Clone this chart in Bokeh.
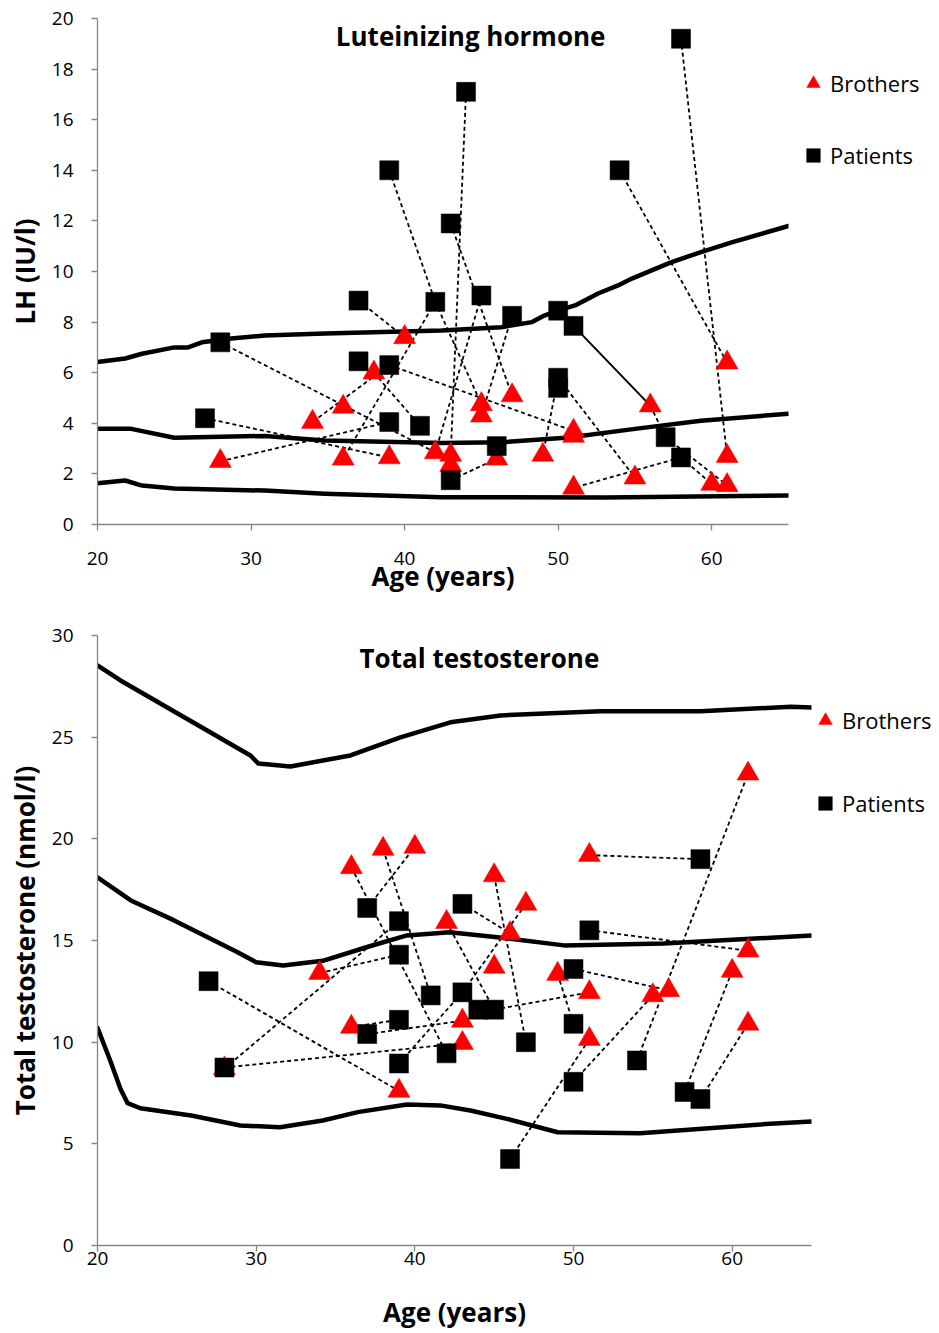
from bokeh.plotting import figure
from bokeh.layouts import column
from bokeh.models import Range1d, FixedTicker, Label, Legend, LegendItem
from bokeh.embed import file_html
from bokeh.resources import INLINE

FONT = "Open Sans"

# ---------------- LH panel data ----------------
lh_hi_age = [20, 21.8, 22.9, 25.0, 25.9, 26.8, 28.7, 30.9, 34.8, 42.4, 46.3, 48.3, 49.1, 50.0, 51.1, 52.6, 53.9, 54.8, 57.3, 59.2, 61.3, 65]
lh_hi = [6.42, 6.56, 6.75, 7.0, 7.0, 7.2, 7.35, 7.47, 7.55, 7.67, 7.8, 8.0, 8.26, 8.46, 8.66, 9.13, 9.45, 9.72, 10.35, 10.75, 11.15, 11.8]
lh_mid_age = [20, 22.2, 25.0, 30.9, 34.8, 42.4, 46.3, 50.7, 55.0, 59.3, 65]
lh_mid = [3.78, 3.78, 3.43, 3.5, 3.32, 3.22, 3.25, 3.44, 3.78, 4.1, 4.38]
lh_lo_age = [20, 21.8, 22.9, 25.0, 30.9, 34.8, 42.4, 53.0, 65]
lh_lo = [1.63, 1.74, 1.54, 1.42, 1.34, 1.22, 1.08, 1.07, 1.15]

lh_pat_age = [39, 44, 58, 54, 43, 37, 42, 45, 47, 50, 51, 28, 37, 39, 27, 39, 41, 50, 50, 46, 57, 58, 43]
lh_pat = [14.0, 17.1, 19.2, 14.0, 11.9, 8.85, 8.8, 9.05, 8.25, 8.45, 7.85, 7.2, 6.45, 6.3, 4.2, 4.05, 3.9, 5.8, 5.4, 3.1, 3.45, 2.65, 1.75]
lh_bro_age = [40, 38, 45, 45, 47, 39, 42, 43, 43, 46, 49, 51, 51, 61, 56, 55, 61, 60, 61, 36, 34, 28, 36, 51]
lh_bro = [7.4, 6.0, 4.75, 4.3, 5.1, 2.65, 2.85, 2.75, 2.35, 2.6, 2.75, 3.7, 1.45, 6.4, 4.7, 1.85, 2.7, 1.6, 1.55, 4.65, 4.05, 2.5, 2.6, 3.5]
lh_links = [("P1", "P7"), ("P7", "B3"), ("P7", "B23"), ("P2", "B8"), ("P5", "B5"), ("P8", "B7"),
            ("P9", "B4"), ("P6", "B1"), ("P12", "B7"), ("P15", "B6"), ("B22", "P16"), ("P14", "B21"),
            ("P14", "B12"), ("P13", "B2"), ("B2", "P17"), ("P23", "B10"), ("P18", "B11"), ("P18", "B16"),
            ("P4", "B14"), ("P3", "B17"), ("B15", "P21"), ("P21", "B19"), ("P22", "B18"), ("P22", "B13")]
lh_solid_links = [("P11", "B15")]

# ---------------- Testosterone panel data ----------------
tt_hi_age = [20, 21.45, 29.64, 30.14, 32.16, 35.94, 39.09, 42.24, 45.4, 51.7, 58.0, 63.7, 65]
tt_hi = [28.53, 27.79, 24.1, 23.7, 23.56, 24.1, 24.99, 25.73, 26.07, 26.27, 26.27, 26.5, 26.46]
tt_mid_age = [20, 22.1, 24.8, 28.8, 30.0, 31.7, 34.2, 37.0, 39.5, 42.2, 45.2, 49.4, 55.7, 65]
tt_mid = [18.1, 16.97, 16.0, 14.43, 13.93, 13.77, 14.0, 14.68, 15.25, 15.41, 15.16, 14.76, 14.85, 15.25]
tt_lo_age = [20, 20.8, 21.45, 21.9, 22.7, 25.9, 29.0, 31.5, 34.2, 36.4, 39.5, 41.6, 43.5, 45.8, 49.0, 54.2, 62.4, 65]
tt_lo = [10.7, 9.1, 7.7, 7.0, 6.75, 6.39, 5.9, 5.82, 6.15, 6.56, 6.93, 6.89, 6.64, 6.23, 5.57, 5.52, 5.99, 6.1]

tt_pat_age = [27, 28, 37, 39, 39, 41, 43, 43, 37, 39, 39, 42, 58, 51, 50, 44, 45, 50, 47, 54, 50, 57, 58, 46]
tt_pat = [13.0, 8.75, 16.6, 15.95, 14.3, 12.3, 16.8, 12.45, 10.4, 11.1, 8.95, 9.45, 19.0, 15.5, 13.6, 11.6, 11.6, 10.9, 10.0, 9.1, 8.05, 7.55, 7.2, 4.25]
tt_bro_age = [28, 36, 38, 40, 34, 42, 36, 43, 43, 39, 51, 45, 47, 46, 61, 45, 49, 60, 51, 55, 56, 51, 61, 61]
tt_bro = [8.7, 18.6, 19.5, 19.6, 13.4, 15.9, 10.75, 11.05, 9.95, 7.6, 19.2, 18.2, 16.8, 15.35, 14.5, 13.7, 13.35, 13.5, 12.45, 12.3, 12.55, 10.15, 10.9, 23.2]
tt_links = [("P1", "B10"), ("B1", "P4"), ("P2", "B9"), ("B2", "P12"), ("P3", "B4"), ("B3", "P6"),
            ("B5", "P5"), ("B7", "P10"), ("P9", "B8"), ("P11", "P8"), ("P8", "B13"), ("P7", "B14"),
            ("B12", "P19"), ("B6", "P17"), ("P17", "B19"), ("P15", "B21"), ("B17", "P18"), ("P14", "B15"),
            ("B11", "P13"), ("P24", "B22"), ("P21", "B20"), ("P20", "B24"), ("P22", "B18"), ("P23", "B23")]
tt_solid_links = []

x_ticks = [20, 30, 40, 50, 60]
lh_y_ticks = [0, 2, 4, 6, 8, 10, 12, 14, 16, 18, 20]
tt_y_ticks = [0, 5, 10, 15, 20, 25, 30]

AXIS_GREY = "#868686"


def link_coords(links, pat_age, pat, bro_age, bro):
    lookup = {}
    for i, (a, v) in enumerate(zip(pat_age, pat)):
        lookup["P%d" % (i + 1)] = (a, v)
    for i, (a, v) in enumerate(zip(bro_age, bro)):
        lookup["B%d" % (i + 1)] = (a, v)
    x0 = [lookup[s][0] for s, e in links]
    y0 = [lookup[s][1] for s, e in links]
    x1 = [lookup[e][0] for s, e in links]
    y1 = [lookup[e][1] for s, e in links]
    return x0, y0, x1, y1


def make_panel(frame_w, frame_h, y_max, y_ticks, ylabel, title, title_xy,
               curves, pat_age, pat, bro_age, bro, links, solid_links,
               borders, legend_loc, legend_spacing, x_tick_standoff, x_lab_standoff, y_lab_standoff):
    left, top, bottom, right = borders
    p = figure(frame_width=frame_w, frame_height=frame_h,
               x_range=Range1d(20, 65), y_range=Range1d(0, y_max),
               output_backend="svg", toolbar_location=None,
               min_border_left=left, min_border_top=top, min_border_bottom=bottom, min_border_right=right)
    p.outline_line_color = None
    p.xgrid.visible = False
    p.ygrid.visible = False
    p.background_fill_color = "white"
    p.border_fill_color = "white"

    for ax in (p.xaxis[0], p.yaxis[0]):
        ax.axis_line_color = AXIS_GREY
        ax.axis_line_width = 1.3
        ax.major_tick_line_color = AXIS_GREY
        ax.major_tick_line_width = 1.3
        ax.minor_tick_line_color = None
        ax.major_tick_out = 6
        ax.major_tick_in = 0
        ax.major_label_text_font = FONT
        ax.major_label_text_font_size = "19px"
        ax.major_label_text_color = "black"
        ax.axis_label_text_font = FONT
        ax.axis_label_text_font_size = "26px"
        ax.axis_label_text_font_style = "bold"
        ax.axis_label_text_color = "black"

    p.xaxis.ticker = FixedTicker(ticks=x_ticks)
    p.xaxis.axis_label = "Age (years)"
    p.xaxis.major_label_standoff = x_tick_standoff
    p.xaxis.axis_label_standoff = x_lab_standoff

    p.yaxis.ticker = FixedTicker(ticks=y_ticks)
    p.yaxis.axis_label = ylabel
    p.yaxis.major_label_standoff = 18
    p.yaxis.axis_label_standoff = y_lab_standoff

    for cx, cy in curves:
        p.line(cx, cy, line_color="black", line_width=4.5, line_cap="round", line_join="round")

    x0, y0, x1, y1 = link_coords(links, pat_age, pat, bro_age, bro)
    p.segment(x0, y0, x1, y1, line_color="black", line_width=1.8, line_dash="4 3")
    if solid_links:
        sx0, sy0, sx1, sy1 = link_coords(solid_links, pat_age, pat, bro_age, bro)
        p.segment(sx0, sy0, sx1, sy1, line_color="black", line_width=2)

    r_b = p.scatter(bro_age, bro, marker="triangle", size=22, fill_color="#ff0000", line_color="#ff0000", line_width=0.5)
    r_p = p.scatter(pat_age, pat, marker="square", size=19, fill_color="black", line_color="black", line_width=0.5)

    p.add_layout(Label(x=title_xy[0], y=title_xy[1], text=title, text_align="center", text_baseline="middle",
                       text_font=FONT, text_font_size="26px", text_font_style="bold", text_color="black"))

    leg = Legend(items=[LegendItem(label="Brothers", renderers=[r_b]), LegendItem(label="Patients", renderers=[r_p])],
                 location=legend_loc, orientation="vertical",
                 glyph_width=34, glyph_height=40, spacing=legend_spacing, padding=0, margin=0,
                 label_standoff=0, label_text_font=FONT, label_text_font_size="22px",
                 label_text_color="black", label_text_baseline="middle",
                 border_line_color=None, background_fill_alpha=0)
    p.add_layout(leg, "right")
    return p


p1 = make_panel(691, 506, 20, lh_y_ticks, "LH (IU/l)", "Luteinizing hormone", (44.3, 19.3),
                [(lh_hi_age, lh_hi), (lh_mid_age, lh_mid), (lh_lo_age, lh_lo)],
                lh_pat_age, lh_pat, lh_bro_age, lh_bro, lh_links, lh_solid_links,
                (96, 18, 76, 152), (8, 349), 32, 21, -10, 6)
p2 = make_panel(714, 610, 30, tt_y_ticks, "Total testosterone (nmol/l)", "Total testosterone", (44.07, 28.87),
                [(tt_hi_age, tt_hi), (tt_mid_age, tt_mid), (tt_lo_age, tt_lo)],
                tt_pat_age, tt_pat, tt_bro_age, tt_bro, tt_links, tt_solid_links,
                (97, 35, 88, 128), (-3, 422), 43, 0, 26, 6)

layout = column(p1, p2, spacing=0)
open("out.html", "w").write(file_html(layout, INLINE))
